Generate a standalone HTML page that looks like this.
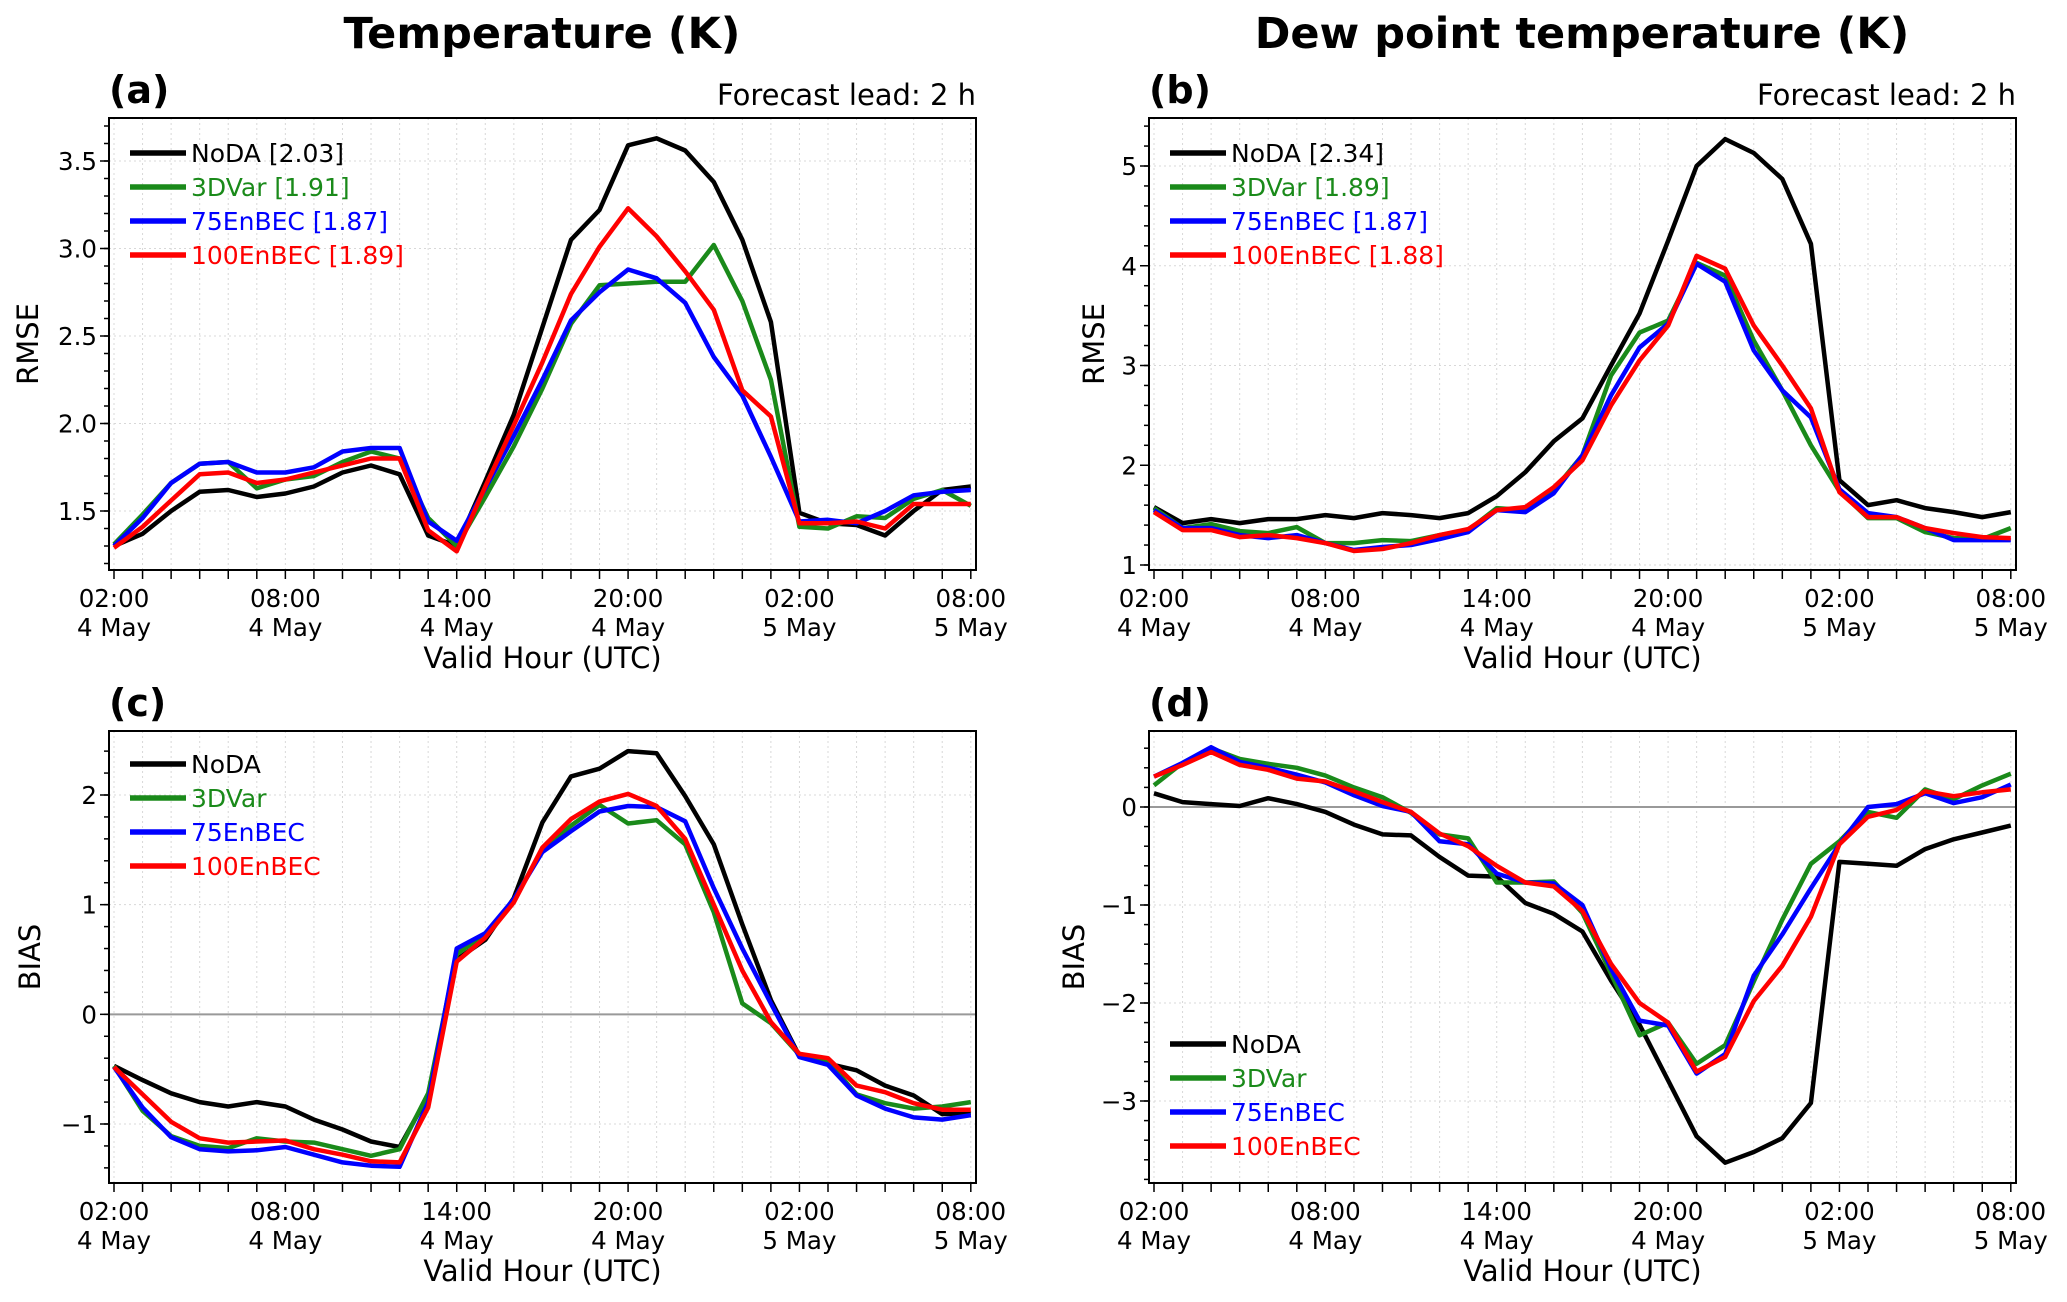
<!DOCTYPE html>
<html><head><meta charset="utf-8">
<style>
html,body{margin:0;padding:0;background:#fff;}
svg{display:block;font-family:"DejaVu Sans","Liberation Sans",sans-serif;}
</style></head>
<body>
<svg id="fig" width="2067" height="1302" viewBox="0 0 2067 1302" xmlns="http://www.w3.org/2000/svg">
<rect x="0" y="0" width="2067" height="1302" fill="#fff"/>
<text x="542" y="48" font-size="43" font-weight="bold" text-anchor="middle">Temperature (K)</text>
<text x="1582" y="48" font-size="43" font-weight="bold" text-anchor="middle">Dew point temperature (K)</text>
</svg>
<script>
// hours since 02:00 4 May
const hours = [0,1,2,3,4,5,6,7,8,9,10,11,12,13,14,15,16,17,18,19,20,21,22,23,24,25,26,27,28,29,30];
const xTickLabels = [["02:00","4 May"],["08:00","4 May"],["14:00","4 May"],["20:00","4 May"],["02:00","5 May"],["08:00","5 May"]];
const seriesNames = ["NoDA","3DVar","75EnBEC","100EnBEC"];
const seriesColors = ["#000000","#1a8a1a","#0000ff","#ff0000"];

const aNoDA = [1.30,1.37,1.50,1.61,1.62,1.58,1.60,1.64,1.72,1.76,1.71,1.36,1.30,1.67,2.05,2.55,3.05,3.22,3.59,3.63,3.56,3.38,3.05,2.58,1.49,1.43,1.42,1.36,1.50,1.62,1.64];
const a3DVar = [1.31,1.48,1.66,1.77,1.78,1.63,1.68,1.70,1.78,1.84,1.80,1.46,1.30,1.58,1.87,2.20,2.57,2.79,2.80,2.81,2.81,3.02,2.70,2.25,1.41,1.40,1.47,1.46,1.57,1.62,1.53];
const a75 = [1.30,1.46,1.66,1.77,1.78,1.72,1.72,1.75,1.84,1.86,1.86,1.44,1.33,1.63,1.93,2.25,2.59,2.75,2.88,2.83,2.69,2.38,2.16,1.81,1.44,1.45,1.43,1.50,1.59,1.61,1.62];
const a100 = [1.29,1.41,1.56,1.71,1.72,1.66,1.68,1.72,1.76,1.80,1.80,1.39,1.27,1.64,1.99,2.35,2.74,3.01,3.23,3.07,2.87,2.65,2.19,2.04,1.43,1.43,1.44,1.40,1.54,1.54,1.54];
const aLegendScores = ["2.03","1.91","1.87","1.89"];
const aYTicks = [1.5,2.0,2.5,3.0,3.5];
const aYTickLabels = ["1.5","2.0","2.5","3.0","3.5"];

const bNoDA = [1.58,1.42,1.46,1.42,1.46,1.46,1.50,1.47,1.52,1.50,1.47,1.52,1.69,1.93,2.24,2.47,3.00,3.52,4.25,5.00,5.27,5.13,4.87,4.22,1.85,1.60,1.65,1.57,1.53,1.48,1.53];
const b3DVar = [1.57,1.37,1.41,1.34,1.32,1.38,1.22,1.22,1.25,1.24,1.30,1.35,1.57,1.55,1.75,2.10,2.90,3.33,3.45,4.03,3.90,3.25,2.75,2.20,1.74,1.47,1.47,1.33,1.27,1.26,1.37];
const b75 = [1.55,1.37,1.37,1.30,1.27,1.30,1.22,1.15,1.18,1.20,1.26,1.33,1.55,1.53,1.72,2.10,2.70,3.18,3.42,4.02,3.84,3.15,2.75,2.48,1.76,1.52,1.48,1.37,1.25,1.25,1.25];
const b100 = [1.53,1.35,1.35,1.28,1.30,1.27,1.22,1.14,1.16,1.22,1.30,1.36,1.55,1.58,1.78,2.05,2.60,3.05,3.40,4.10,3.97,3.40,3.00,2.57,1.73,1.48,1.48,1.37,1.32,1.28,1.27];
const bLegendScores = ["2.34","1.89","1.87","1.88"];
const bYTicks = [1,2,3,4,5];
const bYTickLabels = ["1","2","3","4","5"];

const cNoDA = [-0.47,-0.60,-0.72,-0.80,-0.84,-0.80,-0.84,-0.96,-1.05,-1.16,-1.21,-0.74,0.50,0.68,1.06,1.75,2.17,2.24,2.40,2.38,1.99,1.55,0.82,0.13,-0.38,-0.45,-0.51,-0.65,-0.74,-0.91,-0.90];
const c3DVar = [-0.47,-0.88,-1.11,-1.20,-1.22,-1.13,-1.16,-1.17,-1.23,-1.29,-1.23,-0.72,0.55,0.73,1.04,1.50,1.72,1.91,1.74,1.77,1.55,0.93,0.10,-0.08,-0.37,-0.43,-0.73,-0.81,-0.86,-0.84,-0.80];
const c75 = [-0.48,-0.85,-1.12,-1.23,-1.25,-1.24,-1.21,-1.28,-1.35,-1.38,-1.39,-0.80,0.60,0.74,1.05,1.48,1.67,1.85,1.90,1.89,1.76,1.15,0.60,0.10,-0.39,-0.46,-0.74,-0.86,-0.94,-0.96,-0.92];
const c100 = [-0.48,-0.73,-0.98,-1.13,-1.17,-1.16,-1.15,-1.23,-1.28,-1.34,-1.35,-0.85,0.48,0.70,1.02,1.52,1.78,1.94,2.01,1.90,1.60,1.00,0.40,-0.07,-0.36,-0.40,-0.65,-0.71,-0.81,-0.87,-0.87];
const cYTicks = [-1,0,1,2];
const cYTickLabels = ["\u22121","0","1","2"];

const dNoDA = [0.14,0.05,0.03,0.01,0.09,0.03,-0.05,-0.18,-0.28,-0.29,-0.51,-0.70,-0.71,-0.98,-1.09,-1.27,-1.77,-2.22,-2.79,-3.36,-3.63,-3.52,-3.38,-3.02,-0.56,-0.58,-0.60,-0.43,-0.33,-0.26,-0.19];
const d3DVar = [0.22,0.45,0.60,0.49,0.44,0.40,0.32,0.20,0.10,-0.06,-0.28,-0.32,-0.77,-0.77,-0.76,-1.08,-1.70,-2.33,-2.20,-2.62,-2.43,-1.78,-1.15,-0.58,-0.35,-0.05,-0.11,0.18,0.08,0.22,0.34];
const d75 = [0.31,0.45,0.61,0.46,0.40,0.33,0.25,0.12,0.01,-0.05,-0.35,-0.38,-0.68,-0.77,-0.78,-1.00,-1.65,-2.18,-2.23,-2.72,-2.52,-1.72,-1.30,-0.83,-0.38,0.00,0.03,0.14,0.04,0.10,0.23];
const d100 = [0.31,0.43,0.56,0.43,0.38,0.29,0.26,0.16,0.05,-0.05,-0.27,-0.40,-0.60,-0.77,-0.81,-1.06,-1.60,-2.00,-2.20,-2.70,-2.55,-1.98,-1.62,-1.12,-0.38,-0.10,-0.03,0.16,0.11,0.15,0.18];
const dYTicks = [-3,-2,-1,0];
const dYTickLabels = ["\u22123","\u22122","\u22121","0"];

const NS = "http://www.w3.org/2000/svg";
const svg = document.getElementById("fig");
function mk(tag, attrs, parent){
  const e = document.createElementNS(NS, tag);
  for (const k in attrs) e.setAttribute(k, attrs[k]);
  (parent||svg).appendChild(e);
  return e;
}

function panel(p){
  const g = mk("g", {});
  
  
  const xs = h => p.x0 + h * 28.56;
  const ys = v => p.yA + (v - p.vA) * (p.yB - p.yA) / (p.vB - p.vA);
  for (let h = 0; h <= 30; h++) {
    const gl = mk("line", {x1:xs(h), x2:xs(h), y1:p.top, y2:p.bottom, stroke:"#d8d8d8", "stroke-width":1, "stroke-dasharray":"2,3"}, g);
    
    
  }
  for (let i = 0; i < p.yTicks.length; i++) {
    const gl = mk("line", {x1:p.left, x2:p.right, y1:ys(p.yTicks[i]), y2:ys(p.yTicks[i]), stroke:"#d8d8d8", "stroke-width":1, "stroke-dasharray":"2,3"}, g);
    
    
  }
  if (p.zero) {
    const zl = mk("line", {x1:p.left, x2:p.right, y1:ys(0), y2:ys(0), stroke:"#999", "stroke-width":2}, g);
    
    
  }
  const clipId = "clip" + p.id;
  const cp = mk("clipPath", {id:clipId}, g);
  mk("rect", {x:p.left, y:p.top, width:p.right-p.left, height:p.bottom-p.top}, cp);
  for (let s = 0; s < p.series.length; s++) {
    const pts = p.series[s].map((v,i) => xs(hours[i]).toFixed(1) + "," + ys(v).toFixed(1)).join(" ");
    const pl = mk("polyline", {points:pts, fill:"none", stroke:seriesColors[s], "stroke-width":4.5, "stroke-linejoin":"round", "clip-path":"url(#"+clipId+")"}, g);
    
    
  }
  const fr = mk("rect", {x:p.left, y:p.top, width:p.right-p.left, height:p.bottom-p.top, fill:"none", stroke:"#000", "stroke-width":2}, g);
  
  
  for (let h = 0; h <= 30; h++) {
    const t = mk("line", {x1:xs(h), x2:xs(h), y1:p.bottom, y2:p.bottom+9, stroke:"#000", "stroke-width":1.5}, g);
    
    
  }
  for (let i = 0; i < xTickLabels.length; i++) {
    const tx = mk("text", {x:xs(i*6), y:p.bottom+37, "font-size":24.5, "text-anchor":"middle"}, g);
    tx.textContent = xTickLabels[i][0];
    
    
    const tx2 = mk("text", {x:xs(i*6), y:p.bottom+66, "font-size":24.5, "text-anchor":"middle"}, g);
    tx2.textContent = xTickLabels[i][1];
    
    
  }
  const xl = mk("text", {x:(p.left+p.right)/2, y:p.bottom+98, "font-size":29, "text-anchor":"middle"}, g);
  xl.textContent = "Valid Hour (UTC)";
  
  
  for (let v = p.minorStart; v <= p.vMaxTick + 1e-9; v += p.minorStep) {
    const yy = ys(v);
    if (yy < p.top - 0.5 || yy > p.bottom + 0.5) continue;
    const mt = mk("line", {x1:p.left-5, x2:p.left, y1:yy, y2:yy, stroke:"#000", "stroke-width":1.5}, g);
    
    
  }
  for (let i = 0; i < p.yTicks.length; i++) {
    const yy = ys(p.yTicks[i]);
    const t = mk("line", {x1:p.left-9, x2:p.left, y1:yy, y2:yy, stroke:"#000", "stroke-width":1.5}, g);
    
    
    const tl = mk("text", {x:p.left-12, y:yy+9, "font-size":24.5, "text-anchor":"end"}, g);
    tl.textContent = p.yTickLabels[i];
    
    
  }
  const yl = mk("text", {x:p.ylabX, y:(p.top+p.bottom)/2, "font-size":29, "text-anchor":"middle", transform:"rotate(-90 "+p.ylabX+" "+(p.top+p.bottom)/2+")"}, g);
  yl.textContent = p.ylab;
  
  
  const pl = mk("text", {x:p.left, y:p.top-15, "font-size":38, "font-weight":"bold"}, g);
  pl.textContent = "(" + p.id + ")";
  
  
  if (p.lead) {
    const ld = mk("text", {x:p.right, y:p.top-13, "font-size":29, "text-anchor":"end"}, g);
    ld.textContent = "Forecast lead: 2 h";
    
    
  }
  for (let s = 0; s < 4; s++) {
    const ly = p.legY + s*34;
    const ll = mk("line", {x1:p.left+21, x2:p.left+77, y1:ly, y2:ly, stroke:seriesColors[s], "stroke-width":5.5}, g);
    
    
    const lt = mk("text", {x:p.left+82, y:ly+9, "font-size":25, fill:seriesColors[s]}, g);
    lt.textContent = seriesNames[s] + (p.scores ? " [" + p.scores[s] + "]" : "");
    
    
  }
}

panel({id:"a", left:109, right:976, top:118, bottom:570, x0:114, vA:1.5, yA:511, vB:3.5, yB:161,
  series:[aNoDA,a3DVar,a75,a100], yTicks:aYTicks, yTickLabels:aYTickLabels, minorStart:1.2, minorStep:0.1, vMaxTick:3.7,
  ylab:"RMSE", ylabX:38, lead:true, legY:153, scores:aLegendScores});
panel({id:"b", left:1149, right:2016, top:118, bottom:570, x0:1154, vA:1, yA:565, vB:5, yB:166,
  series:[bNoDA,b3DVar,b75,b100], yTicks:bYTicks, yTickLabels:bYTickLabels, minorStart:1.0, minorStep:0.2, vMaxTick:5.4,
  ylab:"RMSE", ylabX:1104, lead:true, legY:153, scores:bLegendScores});
panel({id:"c", left:109, right:976, top:731, bottom:1183, x0:114, vA:-1, yA:1124, vB:2, yB:795,
  series:[cNoDA,c3DVar,c75,c100], yTicks:cYTicks, yTickLabels:cYTickLabels, minorStart:-1.4, minorStep:0.2, vMaxTick:2.6,
  ylab:"BIAS", ylabX:40, zero:true, legY:764});
panel({id:"d", left:1149, right:2016, top:731, bottom:1183, x0:1154, vA:-3, yA:1101, vB:0, yB:807,
  series:[dNoDA,d3DVar,d75,d100], yTicks:dYTicks, yTickLabels:dYTickLabels, minorStart:-3.8, minorStep:0.2, vMaxTick:0.8,
  ylab:"BIAS", ylabX:1084, zero:true, legY:1044});
</script>
</body></html>
